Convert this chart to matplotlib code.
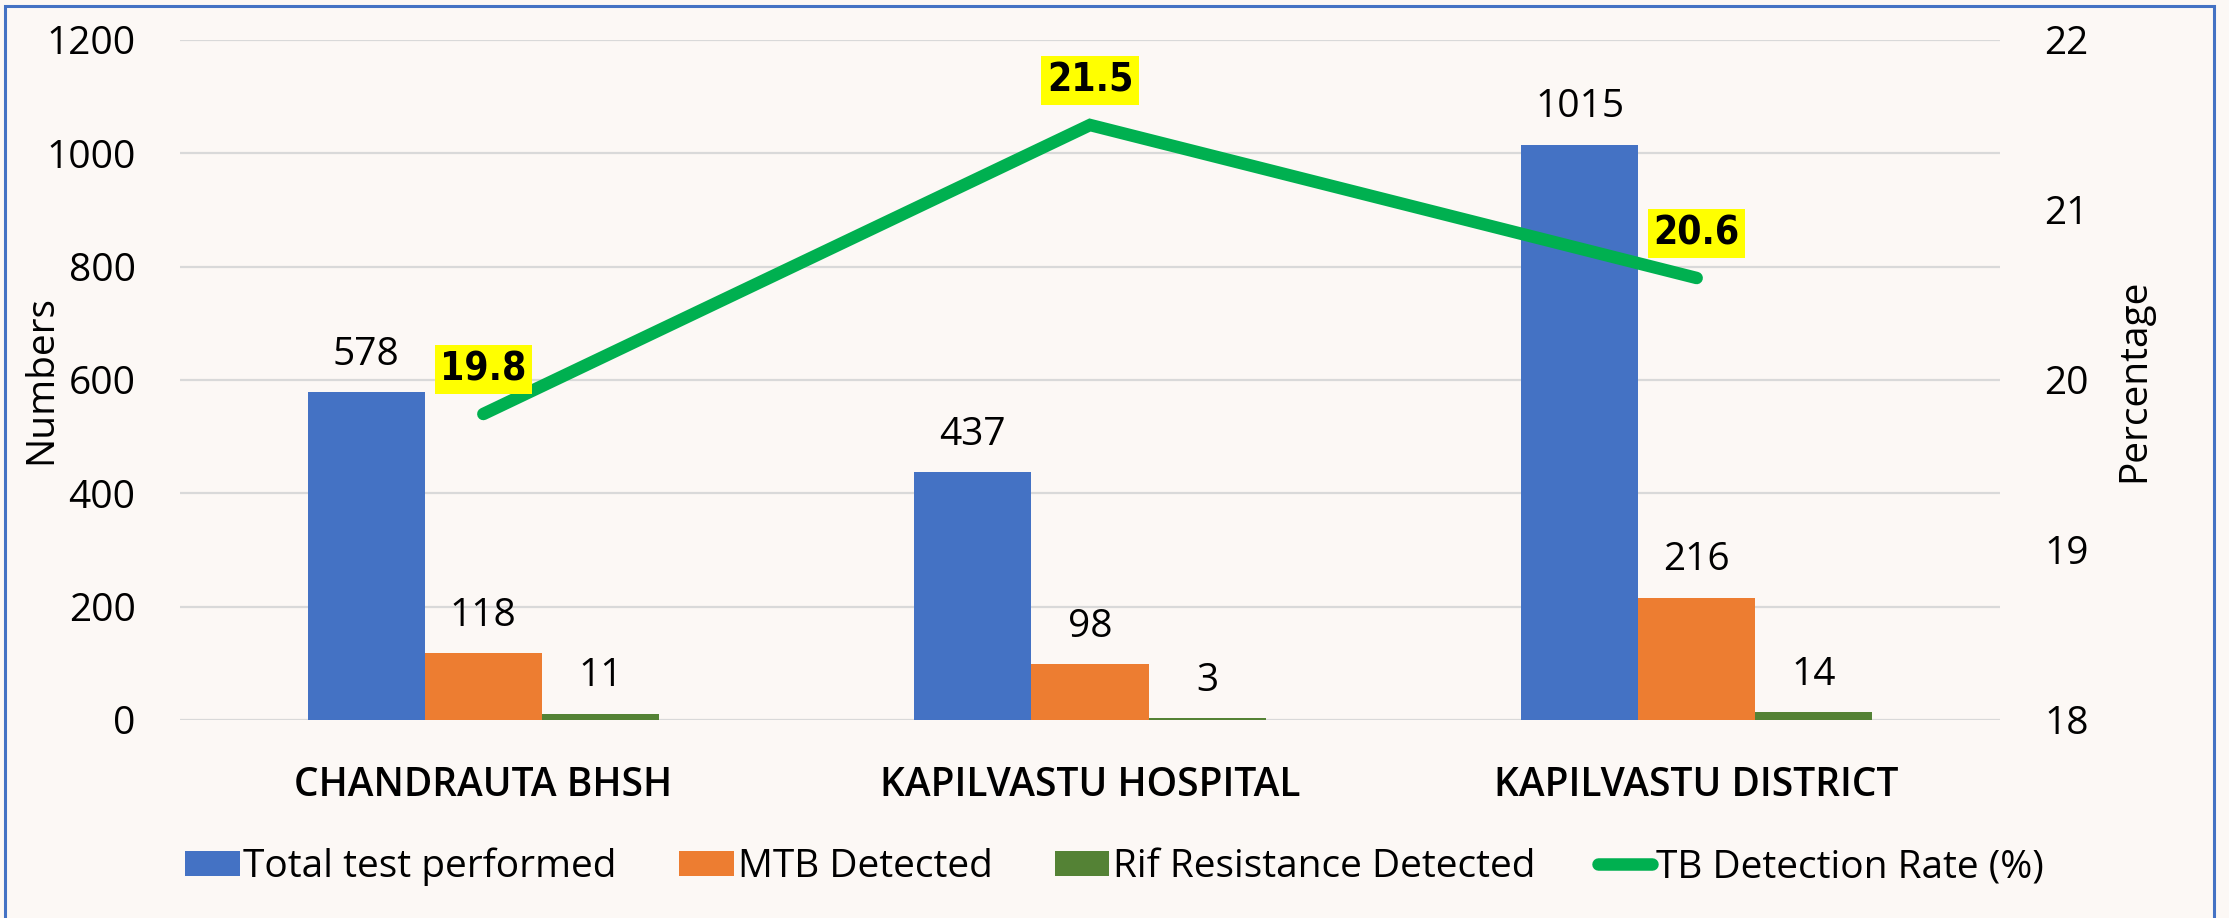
import numpy as np
import matplotlib
matplotlib.use('Agg')
import matplotlib.pyplot as plt
from matplotlib.patches import Rectangle

# data
categories = ['CHANDRAUTA BHSH', 'KAPILVASTU HOSPITAL', 'KAPILVASTU DISTRICT']
total_tests = [578, 437, 1015]
mtb_detected = [118, 98, 216]
rif_resistance = [11, 3, 14]
detection_rate = [19.8, 21.5, 20.6]

series_names = ['Total test performed', 'MTB Detected', 'Rif Resistance Detected']
line_name = 'TB Detection Rate (%)'

bg = '#FCF8F5'
blue = '#4472C4'
orange = '#ED7D31'
green_bar = '#548235'
green_line = '#00B050'

plt.rcParams['font.family'] = ['Open Sans', 'DejaVu Sans']

fig = plt.figure(figsize=(22.29, 9.18), dpi=100, facecolor=bg)
ax = fig.add_axes([180 / 2229, 1 - 720 / 918, 1820 / 2229, 680 / 918])
ax.set_facecolor(bg)

x = np.arange(len(categories))
w = 0.193

bars = []
for i, (vals, col) in enumerate(zip([total_tests, mtb_detected, rif_resistance],
                                    [blue, orange, green_bar])):
    b = ax.bar(x + (i - 1) * w, vals, width=w, color=col, zorder=2, label=series_names[i])
    bars.append(b)
    for xi, v in zip(x + (i - 1) * w, vals):
        ax.annotate(str(v), (xi, v), xytext=(0, 27), textcoords='offset points',
                    ha='center', va='center', fontsize=28, color='black')

ax.set_xlim(-0.5, 2.5)
ax.set_ylim(0, 1200)
ax.set_yticks(range(0, 1201, 200))
ax.grid(axis='y', color='#D9D9D9', linewidth=1.6, zorder=0)
ax.set_axisbelow(True)
for s in ax.spines.values():
    s.set_visible(False)
ax.tick_params(axis='y', length=0, pad=32, labelsize=28)
ax.tick_params(axis='x', length=0, pad=33, labelsize=28)
ax.set_xticks(x)
ax.set_xticklabels(categories, fontweight='semibold')

ax2 = ax.twinx()
ax2.set_ylim(18, 22)
ax2.set_yticks([18, 19, 20, 21, 22])
for s in ax2.spines.values():
    s.set_visible(False)
ax2.tick_params(axis='y', length=0, pad=32, labelsize=28)
line, = ax2.plot(x, detection_rate, color=green_line, linewidth=9,
                 solid_capstyle='round', solid_joinstyle='miter', zorder=3, label=line_name)
for xi, v in zip(x, detection_rate):
    ax2.annotate(f'{v}', (xi, v), xytext=(0, 32), textcoords='offset points',
                 ha='center', va='center', fontsize=28, fontweight='bold',
                 family='DejaVu Sans', fontstretch='condensed',
                 bbox=dict(facecolor='#FFFF00', edgecolor='none', pad=4))

fig.text(41 / 2229, 1 - 380 / 918, 'Numbers', rotation=90, ha='center', va='center', fontsize=28)
fig.text(2134 / 2229, 1 - 380 / 918, 'Percentage', rotation=90, ha='center', va='center', fontsize=28)

handles = bars + [line]
labels = series_names + [line_name]
fig.legend(handles, labels, loc='center', bbox_to_anchor=(0.5, 1 - 867 / 918), ncol=4,
           frameon=False, fontsize=28, handlelength=1.4, handleheight=0.6,
           handletextpad=0.1, columnspacing=1.6)

fig.patches.append(Rectangle((5 / 2229, -0.05), 2209 / 2229, 1.05 - 6 / 918,
                             transform=fig.transFigure, fill=False,
                             edgecolor=blue, linewidth=2.2))

fig.savefig('out.png', dpi=100, facecolor=bg)
